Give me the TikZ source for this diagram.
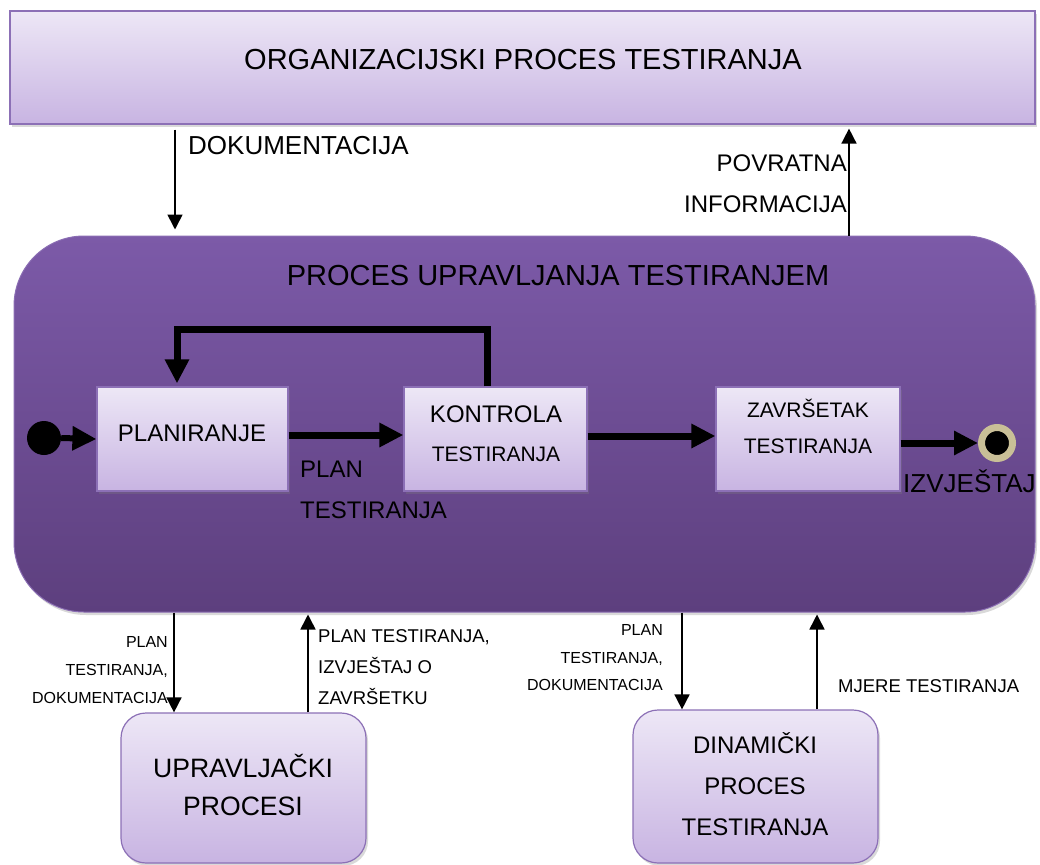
\documentclass[tikz,border=0pt]{standalone}
\usepackage{fontspec}
\setmainfont{Liberation Sans}
\usetikzlibrary{arrows.meta,shadows}
\definecolor{lighttop}{HTML}{EDE7F6}
\definecolor{lightbot}{HTML}{C8B4E2}
\definecolor{boxedge}{HTML}{8C70B6}
\definecolor{bigtop}{HTML}{7C5AA8}
\definecolor{bigbot}{HTML}{5D3F7E}
\definecolor{bigedge}{HTML}{8A6DB3}
\definecolor{ringcol}{HTML}{C9BF97}
\begin{document}
\begin{tikzpicture}[x=1pt,y=-1pt,
  lightbox/.style={draw=boxedge, line width=1.2pt, top color=lighttop, bottom color=lightbot,
    inner sep=0pt, drop shadow={shadow xshift=2pt,shadow yshift=-3pt,opacity=0.3}},
  bigbox/.style={draw=bigedge, line width=1pt, top color=bigtop, bottom color=bigbot,
    inner sep=0pt, rounded corners=70pt, drop shadow={shadow xshift=2pt,shadow yshift=-3pt,opacity=0.3}},
  txt/.style={inner sep=0pt, text=black},
  fa/.style={font=\fontsize{29pt}{34pt}\selectfont},
  fb/.style={font=\fontsize{26pt}{30pt}\selectfont},
  fc/.style={font=\fontsize{24pt}{28pt}\selectfont},
  fd/.style={font=\fontsize{21pt}{25pt}\selectfont},
  fe/.style={font=\fontsize{18.5pt}{22pt}\selectfont},
  ff/.style={font=\fontsize{16pt}{19pt}\selectfont},
  fg/.style={font=\fontsize{26.6pt}{30pt}\selectfont},
  thickarrow/.style={line width=7pt, -{Triangle[length=24pt,width=23pt]}},
  thinarrow/.style={line width=1.6pt, -{Triangle[length=15pt,width=15pt]}}
]
\useasboundingbox (0,0) rectangle (1040,864);

% main containers
\node[lightbox, minimum width=1025pt, minimum height=113pt] (org) at (522.5,67.5) {};
\node[bigbox, minimum width=1021pt, minimum height=376pt] (big) at (524.5,424) {};

% inner process boxes
\node[lightbox, minimum width=191pt, minimum height=104pt] (plan) at (192.5,439) {};
\node[lightbox, minimum width=183pt, minimum height=104pt] (kont) at (495.5,439) {};
\node[lightbox, minimum width=184pt, minimum height=104pt] (zav) at (808,439) {};

% bottom boxes
\node[lightbox, rounded corners=25pt, minimum width=245pt, minimum height=150pt] (upr) at (243.5,788) {};
\node[lightbox, rounded corners=25pt, minimum width=245pt, minimum height=153pt] (dyn) at (755.5,786.5) {};

% start / end markers
\node[circle, fill=black, minimum size=34pt, inner sep=0pt] (start) at (44,438) {};
\node[circle, fill=black, draw=ringcol, line width=7pt, minimum size=31pt, inner sep=0pt] (end) at (997,443) {};

% texts
\node[txt, fa, anchor=base] (t1) at (523,70) {ORGANIZACIJSKI PROCES TESTIRANJA};
\node[txt, fa, anchor=base] (t2) at (558,285) {PROCES UPRAVLJANJA TESTIRANJEM};
\node[txt, fb, anchor=base west] (t3) at (188,154) {DOKUMENTACIJA};
\node[txt, fc, anchor=base east] (t4) at (847,171) {POVRATNA};
\node[txt, fc, anchor=base east] (t5) at (847,212) {INFORMACIJA};
\node[txt, fc, anchor=base] (t6) at (192,441) {PLANIRANJE};
\node[txt, fc, anchor=base] (t7) at (496,422) {KONTROLA};
\node[txt, fd, anchor=base] (t8) at (496,461) {TESTIRANJA};
\node[txt, fd, anchor=base] (t9) at (808,417) {ZAVRŠETAK};
\node[txt, fd, anchor=base] (t10) at (808,453) {TESTIRANJA};
\node[txt, fc, anchor=base west] (t11) at (300,477) {PLAN};
\node[txt, fc, anchor=base west] (t12) at (300,518) {TESTIRANJA};
\node[txt, fb, anchor=base west] (t13) at (903,492) {IZVJEŠTAJ};
\node[txt, ff, anchor=base east] (t14) at (168,647) {PLAN};
\node[txt, ff, anchor=base east] (t15) at (168,675) {TESTIRANJA,};
\node[txt, ff, anchor=base east] (t16) at (168,703) {DOKUMENTACIJA};
\node[txt, fe, anchor=base west] (t17) at (318,642) {PLAN TESTIRANJA,};
\node[txt, fe, anchor=base west] (t18) at (318,673) {IZVJEŠTAJ O};
\node[txt, fe, anchor=base west] (t19) at (318,704) {ZAVRŠETKU};
\node[txt, ff, anchor=base east] (t20) at (663,635) {PLAN};
\node[txt, ff, anchor=base east] (t21) at (663,663) {TESTIRANJA,};
\node[txt, ff, anchor=base east] (t22) at (663,690) {DOKUMENTACIJA};
\node[txt, fe, anchor=base west] (t23) at (838,692) {MJERE TESTIRANJA};
\node[txt, fg, anchor=base] (t24) at (243,777) {UPRAVLJAČKI};
\node[txt, fg, anchor=base] (t25) at (243,815) {PROCESI};
\node[txt, fc, anchor=base] (t26) at (755,753) {DINAMIČKI};
\node[txt, fc, anchor=base] (t27) at (755,794) {PROCES};
\node[txt, fc, anchor=base] (t28) at (755,835) {TESTIRANJA};

% thick flow connectors
\draw[thickarrow, line width=6pt] (start.east) -- (plan.west);
\draw[thickarrow] ([yshift=4pt]plan.east) -- ([yshift=4pt]kont.west);
\draw[thickarrow] ([yshift=3pt]kont.east) -- ([yshift=3pt]zav.west);
\draw[thickarrow] (zav.east |- end.west) -- (end.west);
\draw[thickarrow] ([xshift=-8.5pt]kont.north) -- ++(0,-57) -| ([xshift=-15.5pt, yshift=3pt]plan.north);

% thin connectors
\draw[thinarrow, shorten <=5pt, shorten >=6pt] ([xshift=-347.5pt]org.south) -- ([xshift=-349.5pt]big.north);
\draw[thinarrow, shorten >=4pt] ([xshift=324.5pt]big.north) -- ([xshift=326.5pt]org.south);
\draw[thinarrow] ([xshift=-350.5pt]big.south) -- ([xshift=-69.5pt]upr.north);
\draw[thinarrow, shorten >=2pt] ([xshift=64.5pt]upr.north) -- ([xshift=-216.5pt]big.south);
\draw[thinarrow] ([xshift=157.5pt]big.south) -- ([xshift=-73.5pt]dyn.north);
\draw[thinarrow, shorten >=2pt] ([xshift=61.5pt]dyn.north) -- ([xshift=292.5pt]big.south);
\end{tikzpicture}
\end{document}
